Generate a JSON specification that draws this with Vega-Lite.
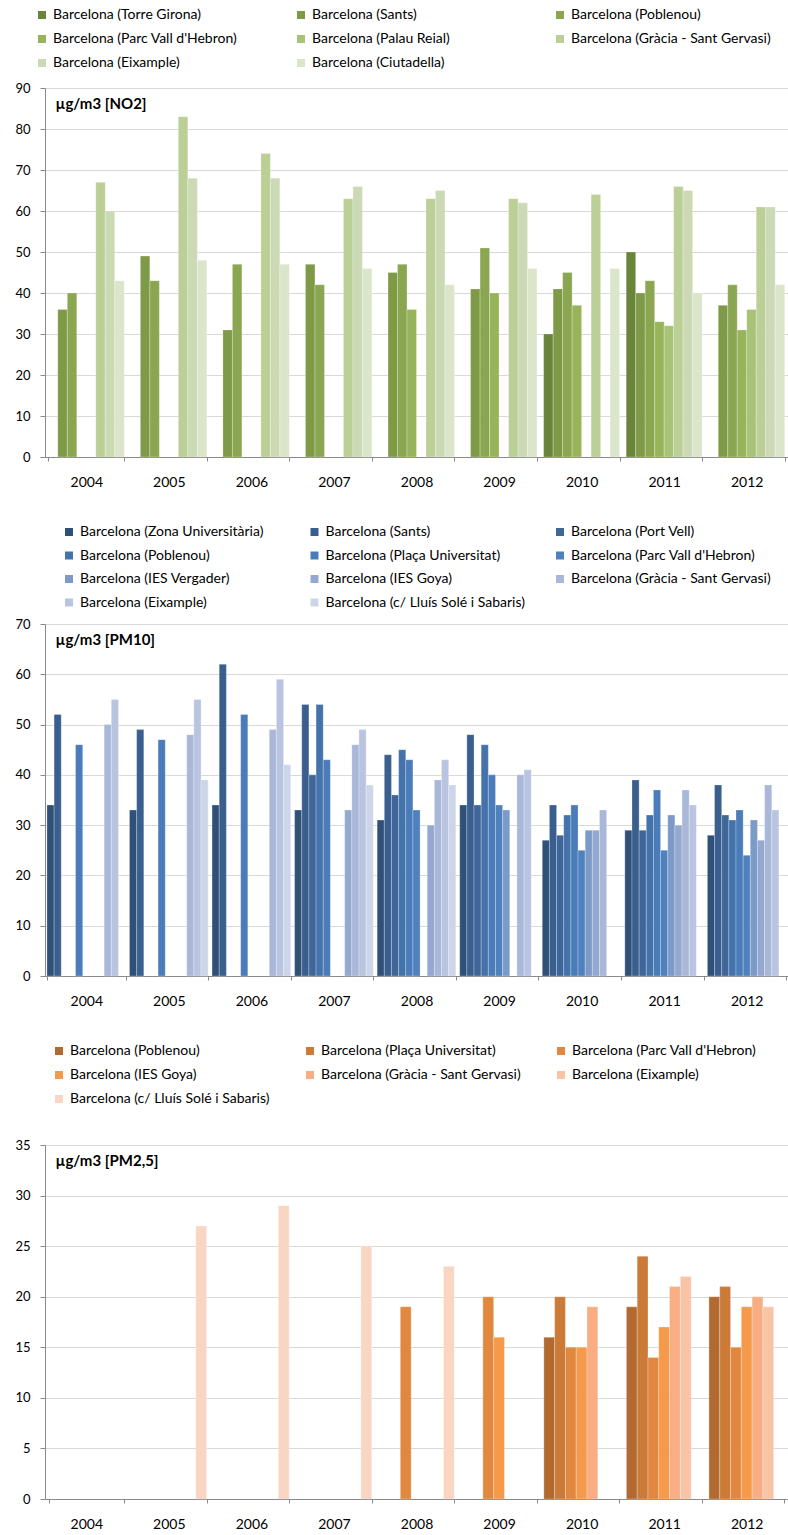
{
  "$schema": "https://vega.github.io/schema/vega-lite/v6.json",
  "background": "white",
  "padding": {"left": 14, "top": 8, "right": 0, "bottom": 0},
  "spacing": 36,
  "resolve": {"scale": {"color": "independent", "xOffset": "independent", "x": "independent", "y": "independent"}, "legend": {"color": "independent"}},
  "config": {
    "view": {"stroke": null},
    "font": "Lato",
    "axis": {"domainColor": "#898989", "tickColor": "#898989", "gridColor": "#d9d9d9", "gridWidth": 1, "labelFont": "Lato", "labelColor": "#000000", "titleFont": "Lato", "titleColor": "#000000"},
    "axisY": {"grid": true, "tickSize": 5, "labelPadding": 10, "labelFontSize": 13, "titleAngle": 0, "titleAlign": "left", "titleBaseline": "top", "titleX": 10, "titleY": 8, "titleFontWeight": "bold", "titleFontSize": 15},
    "axisX": {"grid": false, "tickBand": "extent", "tickSize": 4, "labelPadding": 14, "labelFontSize": 14, "labelAngle": 0, "title": null},
    "legend": {"orient": "none", "direction": "horizontal", "title": null, "columns": 3, "symbolType": "square", "symbolSize": 64, "symbolStrokeWidth": 0, "symbolOpacity": 1, "labelFontSize": 14, "labelFont": "Lato", "labelColor": "#000000", "labelOffset": 4, "gridAlign": "all", "labelLimit": 400, "padding": 0}
  },
  "datasets": {
    "no2": [
      {"year": "2004", "station": "Barcelona (Sants)", "value": 36},
      {"year": "2004", "station": "Barcelona (Poblenou)", "value": 40},
      {"year": "2004", "station": "Barcelona (Gràcia - Sant Gervasi)", "value": 67},
      {"year": "2004", "station": "Barcelona (Eixample)", "value": 60},
      {"year": "2004", "station": "Barcelona (Ciutadella)", "value": 43},
      {"year": "2005", "station": "Barcelona (Sants)", "value": 49},
      {"year": "2005", "station": "Barcelona (Poblenou)", "value": 43},
      {"year": "2005", "station": "Barcelona (Gràcia - Sant Gervasi)", "value": 83},
      {"year": "2005", "station": "Barcelona (Eixample)", "value": 68},
      {"year": "2005", "station": "Barcelona (Ciutadella)", "value": 48},
      {"year": "2006", "station": "Barcelona (Sants)", "value": 31},
      {"year": "2006", "station": "Barcelona (Poblenou)", "value": 47},
      {"year": "2006", "station": "Barcelona (Gràcia - Sant Gervasi)", "value": 74},
      {"year": "2006", "station": "Barcelona (Eixample)", "value": 68},
      {"year": "2006", "station": "Barcelona (Ciutadella)", "value": 47},
      {"year": "2007", "station": "Barcelona (Sants)", "value": 47},
      {"year": "2007", "station": "Barcelona (Poblenou)", "value": 42},
      {"year": "2007", "station": "Barcelona (Gràcia - Sant Gervasi)", "value": 63},
      {"year": "2007", "station": "Barcelona (Eixample)", "value": 66},
      {"year": "2007", "station": "Barcelona (Ciutadella)", "value": 46},
      {"year": "2008", "station": "Barcelona (Sants)", "value": 45},
      {"year": "2008", "station": "Barcelona (Poblenou)", "value": 47},
      {"year": "2008", "station": "Barcelona (Parc Vall d'Hebron)", "value": 36},
      {"year": "2008", "station": "Barcelona (Gràcia - Sant Gervasi)", "value": 63},
      {"year": "2008", "station": "Barcelona (Eixample)", "value": 65},
      {"year": "2008", "station": "Barcelona (Ciutadella)", "value": 42},
      {"year": "2009", "station": "Barcelona (Sants)", "value": 41},
      {"year": "2009", "station": "Barcelona (Poblenou)", "value": 51},
      {"year": "2009", "station": "Barcelona (Parc Vall d'Hebron)", "value": 40},
      {"year": "2009", "station": "Barcelona (Gràcia - Sant Gervasi)", "value": 63},
      {"year": "2009", "station": "Barcelona (Eixample)", "value": 62},
      {"year": "2009", "station": "Barcelona (Ciutadella)", "value": 46},
      {"year": "2010", "station": "Barcelona (Torre Girona)", "value": 30},
      {"year": "2010", "station": "Barcelona (Sants)", "value": 41},
      {"year": "2010", "station": "Barcelona (Poblenou)", "value": 45},
      {"year": "2010", "station": "Barcelona (Parc Vall d'Hebron)", "value": 37},
      {"year": "2010", "station": "Barcelona (Gràcia - Sant Gervasi)", "value": 64},
      {"year": "2010", "station": "Barcelona (Ciutadella)", "value": 46},
      {"year": "2011", "station": "Barcelona (Torre Girona)", "value": 50},
      {"year": "2011", "station": "Barcelona (Sants)", "value": 40},
      {"year": "2011", "station": "Barcelona (Poblenou)", "value": 43},
      {"year": "2011", "station": "Barcelona (Parc Vall d'Hebron)", "value": 33},
      {"year": "2011", "station": "Barcelona (Palau Reial)", "value": 32},
      {"year": "2011", "station": "Barcelona (Gràcia - Sant Gervasi)", "value": 66},
      {"year": "2011", "station": "Barcelona (Eixample)", "value": 65},
      {"year": "2011", "station": "Barcelona (Ciutadella)", "value": 40},
      {"year": "2012", "station": "Barcelona (Sants)", "value": 37},
      {"year": "2012", "station": "Barcelona (Poblenou)", "value": 42},
      {"year": "2012", "station": "Barcelona (Parc Vall d'Hebron)", "value": 31},
      {"year": "2012", "station": "Barcelona (Palau Reial)", "value": 36},
      {"year": "2012", "station": "Barcelona (Gràcia - Sant Gervasi)", "value": 61},
      {"year": "2012", "station": "Barcelona (Eixample)", "value": 61},
      {"year": "2012", "station": "Barcelona (Ciutadella)", "value": 42}
    ],
    "pm10": [
      {"year": "2004", "station": "Barcelona (Zona Universitària)", "value": 34},
      {"year": "2004", "station": "Barcelona (Sants)", "value": 52},
      {"year": "2004", "station": "Barcelona (Plaça Universitat)", "value": 46},
      {"year": "2004", "station": "Barcelona (Gràcia - Sant Gervasi)", "value": 50},
      {"year": "2004", "station": "Barcelona (Eixample)", "value": 55},
      {"year": "2005", "station": "Barcelona (Zona Universitària)", "value": 33},
      {"year": "2005", "station": "Barcelona (Sants)", "value": 49},
      {"year": "2005", "station": "Barcelona (Plaça Universitat)", "value": 47},
      {"year": "2005", "station": "Barcelona (Gràcia - Sant Gervasi)", "value": 48},
      {"year": "2005", "station": "Barcelona (Eixample)", "value": 55},
      {"year": "2005", "station": "Barcelona (c/ Lluís Solé i Sabaris)", "value": 39},
      {"year": "2006", "station": "Barcelona (Zona Universitària)", "value": 34},
      {"year": "2006", "station": "Barcelona (Sants)", "value": 62},
      {"year": "2006", "station": "Barcelona (Plaça Universitat)", "value": 52},
      {"year": "2006", "station": "Barcelona (Gràcia - Sant Gervasi)", "value": 49},
      {"year": "2006", "station": "Barcelona (Eixample)", "value": 59},
      {"year": "2006", "station": "Barcelona (c/ Lluís Solé i Sabaris)", "value": 42},
      {"year": "2007", "station": "Barcelona (Zona Universitària)", "value": 33},
      {"year": "2007", "station": "Barcelona (Sants)", "value": 54},
      {"year": "2007", "station": "Barcelona (Port Vell)", "value": 40},
      {"year": "2007", "station": "Barcelona (Poblenou)", "value": 54},
      {"year": "2007", "station": "Barcelona (Plaça Universitat)", "value": 43},
      {"year": "2007", "station": "Barcelona (IES Goya)", "value": 33},
      {"year": "2007", "station": "Barcelona (Gràcia - Sant Gervasi)", "value": 46},
      {"year": "2007", "station": "Barcelona (Eixample)", "value": 49},
      {"year": "2007", "station": "Barcelona (c/ Lluís Solé i Sabaris)", "value": 38},
      {"year": "2008", "station": "Barcelona (Zona Universitària)", "value": 31},
      {"year": "2008", "station": "Barcelona (Sants)", "value": 44},
      {"year": "2008", "station": "Barcelona (Port Vell)", "value": 36},
      {"year": "2008", "station": "Barcelona (Poblenou)", "value": 45},
      {"year": "2008", "station": "Barcelona (Plaça Universitat)", "value": 43},
      {"year": "2008", "station": "Barcelona (Parc Vall d'Hebron)", "value": 33},
      {"year": "2008", "station": "Barcelona (IES Goya)", "value": 30},
      {"year": "2008", "station": "Barcelona (Gràcia - Sant Gervasi)", "value": 39},
      {"year": "2008", "station": "Barcelona (Eixample)", "value": 43},
      {"year": "2008", "station": "Barcelona (c/ Lluís Solé i Sabaris)", "value": 38},
      {"year": "2009", "station": "Barcelona (Zona Universitària)", "value": 34},
      {"year": "2009", "station": "Barcelona (Sants)", "value": 48},
      {"year": "2009", "station": "Barcelona (Port Vell)", "value": 34},
      {"year": "2009", "station": "Barcelona (Poblenou)", "value": 46},
      {"year": "2009", "station": "Barcelona (Plaça Universitat)", "value": 40},
      {"year": "2009", "station": "Barcelona (Parc Vall d'Hebron)", "value": 34},
      {"year": "2009", "station": "Barcelona (IES Vergader)", "value": 33},
      {"year": "2009", "station": "Barcelona (Gràcia - Sant Gervasi)", "value": 40},
      {"year": "2009", "station": "Barcelona (Eixample)", "value": 41},
      {"year": "2010", "station": "Barcelona (Zona Universitària)", "value": 27},
      {"year": "2010", "station": "Barcelona (Sants)", "value": 34},
      {"year": "2010", "station": "Barcelona (Port Vell)", "value": 28},
      {"year": "2010", "station": "Barcelona (Poblenou)", "value": 32},
      {"year": "2010", "station": "Barcelona (Plaça Universitat)", "value": 34},
      {"year": "2010", "station": "Barcelona (Parc Vall d'Hebron)", "value": 25},
      {"year": "2010", "station": "Barcelona (IES Vergader)", "value": 29},
      {"year": "2010", "station": "Barcelona (IES Goya)", "value": 29},
      {"year": "2010", "station": "Barcelona (Gràcia - Sant Gervasi)", "value": 33},
      {"year": "2011", "station": "Barcelona (Zona Universitària)", "value": 29},
      {"year": "2011", "station": "Barcelona (Sants)", "value": 39},
      {"year": "2011", "station": "Barcelona (Port Vell)", "value": 29},
      {"year": "2011", "station": "Barcelona (Poblenou)", "value": 32},
      {"year": "2011", "station": "Barcelona (Plaça Universitat)", "value": 37},
      {"year": "2011", "station": "Barcelona (Parc Vall d'Hebron)", "value": 25},
      {"year": "2011", "station": "Barcelona (IES Vergader)", "value": 32},
      {"year": "2011", "station": "Barcelona (IES Goya)", "value": 30},
      {"year": "2011", "station": "Barcelona (Gràcia - Sant Gervasi)", "value": 37},
      {"year": "2011", "station": "Barcelona (Eixample)", "value": 34},
      {"year": "2012", "station": "Barcelona (Zona Universitària)", "value": 28},
      {"year": "2012", "station": "Barcelona (Sants)", "value": 38},
      {"year": "2012", "station": "Barcelona (Port Vell)", "value": 32},
      {"year": "2012", "station": "Barcelona (Poblenou)", "value": 31},
      {"year": "2012", "station": "Barcelona (Plaça Universitat)", "value": 33},
      {"year": "2012", "station": "Barcelona (Parc Vall d'Hebron)", "value": 24},
      {"year": "2012", "station": "Barcelona (IES Vergader)", "value": 31},
      {"year": "2012", "station": "Barcelona (IES Goya)", "value": 27},
      {"year": "2012", "station": "Barcelona (Gràcia - Sant Gervasi)", "value": 38},
      {"year": "2012", "station": "Barcelona (Eixample)", "value": 33}
    ],
    "pm25": [
      {"year": "2005", "station": "Barcelona (c/ Lluís Solé i Sabaris)", "value": 27},
      {"year": "2006", "station": "Barcelona (c/ Lluís Solé i Sabaris)", "value": 29},
      {"year": "2007", "station": "Barcelona (c/ Lluís Solé i Sabaris)", "value": 25},
      {"year": "2008", "station": "Barcelona (Parc Vall d'Hebron)", "value": 19},
      {"year": "2008", "station": "Barcelona (c/ Lluís Solé i Sabaris)", "value": 23},
      {"year": "2009", "station": "Barcelona (Parc Vall d'Hebron)", "value": 20},
      {"year": "2009", "station": "Barcelona (IES Goya)", "value": 16},
      {"year": "2010", "station": "Barcelona (Poblenou)", "value": 16},
      {"year": "2010", "station": "Barcelona (Plaça Universitat)", "value": 20},
      {"year": "2010", "station": "Barcelona (Parc Vall d'Hebron)", "value": 15},
      {"year": "2010", "station": "Barcelona (IES Goya)", "value": 15},
      {"year": "2010", "station": "Barcelona (Gràcia - Sant Gervasi)", "value": 19},
      {"year": "2011", "station": "Barcelona (Poblenou)", "value": 19},
      {"year": "2011", "station": "Barcelona (Plaça Universitat)", "value": 24},
      {"year": "2011", "station": "Barcelona (Parc Vall d'Hebron)", "value": 14},
      {"year": "2011", "station": "Barcelona (IES Goya)", "value": 17},
      {"year": "2011", "station": "Barcelona (Gràcia - Sant Gervasi)", "value": 21},
      {"year": "2011", "station": "Barcelona (Eixample)", "value": 22},
      {"year": "2012", "station": "Barcelona (Poblenou)", "value": 20},
      {"year": "2012", "station": "Barcelona (Plaça Universitat)", "value": 21},
      {"year": "2012", "station": "Barcelona (Parc Vall d'Hebron)", "value": 15},
      {"year": "2012", "station": "Barcelona (IES Goya)", "value": 19},
      {"year": "2012", "station": "Barcelona (Gràcia - Sant Gervasi)", "value": 20},
      {"year": "2012", "station": "Barcelona (Eixample)", "value": 19}
    ]
  },
  "vconcat": [
    {
      "width": 743, "height": 369,
      "data": {"name": "no2"},
      "mark": {"type": "bar", "stroke": "#ffffff", "strokeWidth": 0.5, "strokeOpacity": 0.5},
      "encoding": {
        "x": {"field": "year", "type": "nominal", "scale": {"domain": ["2004","2005","2006","2007","2008","2009","2010","2011","2012"], "paddingInner": 0.08, "paddingOuter": 0.04}},
        "xOffset": {"field": "station", "type": "nominal", "scale": {"domain": ["Barcelona (Torre Girona)", "Barcelona (Sants)", "Barcelona (Poblenou)", "Barcelona (Parc Vall d'Hebron)", "Barcelona (Palau Reial)", "Barcelona (Gràcia - Sant Gervasi)", "Barcelona (Eixample)", "Barcelona (Ciutadella)"], "paddingInner": 0, "paddingOuter": 0}},
        "y": {"field": "value", "type": "quantitative", "scale": {"domain": [0, 90], "nice": false}, "axis": {"values": [0,10,20,30,40,50,60,70,80,90], "title": "µg/m3 [NO2]"}},
        "color": {"field": "station", "type": "nominal", "scale": {"domain": ["Barcelona (Torre Girona)", "Barcelona (Sants)", "Barcelona (Poblenou)", "Barcelona (Parc Vall d'Hebron)", "Barcelona (Palau Reial)", "Barcelona (Gràcia - Sant Gervasi)", "Barcelona (Eixample)", "Barcelona (Ciutadella)"], "range": ["#6a8439", "#7e9a47", "#8ba650", "#98b45a", "#a8c277", "#bbcf97", "#cbdab5", "#dbe5ca"]}, "legend": {"legendX": -10, "legendY": -80, "rowPadding": 10, "columnPadding": 41}}
      }
    },
    {
      "width": 743, "height": 352,
      "data": {"name": "pm10"},
      "mark": {"type": "bar", "stroke": "#ffffff", "strokeWidth": 0.5, "strokeOpacity": 0.5},
      "encoding": {
        "x": {"field": "year", "type": "nominal", "scale": {"domain": ["2004","2005","2006","2007","2008","2009","2010","2011","2012"], "paddingInner": 0.047, "paddingOuter": 0.0235}},
        "xOffset": {"field": "station", "type": "nominal", "scale": {"domain": ["Barcelona (Zona Universitària)", "Barcelona (Sants)", "Barcelona (Port Vell)", "Barcelona (Poblenou)", "Barcelona (Plaça Universitat)", "Barcelona (Parc Vall d'Hebron)", "Barcelona (IES Vergader)", "Barcelona (IES Goya)", "Barcelona (Gràcia - Sant Gervasi)", "Barcelona (Eixample)", "Barcelona (c/ Lluís Solé i Sabaris)"], "paddingInner": 0, "paddingOuter": 0}},
        "y": {"field": "value", "type": "quantitative", "scale": {"domain": [0, 70], "nice": false}, "axis": {"values": [0,10,20,30,40,50,60,70], "title": "µg/m3 [PM10]"}},
        "color": {"field": "station", "type": "nominal", "scale": {"domain": ["Barcelona (Zona Universitària)", "Barcelona (Sants)", "Barcelona (Port Vell)", "Barcelona (Poblenou)", "Barcelona (Plaça Universitat)", "Barcelona (Parc Vall d'Hebron)", "Barcelona (IES Vergader)", "Barcelona (IES Goya)", "Barcelona (Gràcia - Sant Gervasi)", "Barcelona (Eixample)", "Barcelona (c/ Lluís Solé i Sabaris)"], "range": ["#2f5077", "#3a5f8f", "#3e6699", "#4472aa", "#497cb9", "#4f81bd", "#7b9ac8", "#95a8d0", "#a9b8d8", "#b9c5e0", "#cdd6e9"]}, "legend": {"legendX": 17, "legendY": -99, "rowPadding": 9.5, "columnPadding": 27.5}}
      }
    },
    {
      "width": 743, "height": 354,
      "data": {"name": "pm25"},
      "mark": {"type": "bar", "stroke": "#ffffff", "strokeWidth": 0.5, "strokeOpacity": 0.5},
      "encoding": {
        "x": {"field": "year", "type": "nominal", "scale": {"domain": ["2004","2005","2006","2007","2008","2009","2010","2011","2012"], "paddingInner": 0.085, "paddingOuter": 0.0425}},
        "xOffset": {"field": "station", "type": "nominal", "scale": {"domain": ["Barcelona (Poblenou)", "Barcelona (Plaça Universitat)", "Barcelona (Parc Vall d'Hebron)", "Barcelona (IES Goya)", "Barcelona (Gràcia - Sant Gervasi)", "Barcelona (Eixample)", "Barcelona (c/ Lluís Solé i Sabaris)"], "paddingInner": 0, "paddingOuter": 0}},
        "y": {"field": "value", "type": "quantitative", "scale": {"domain": [0, 35], "nice": false}, "axis": {"values": [0,5,10,15,20,25,30,35], "title": "µg/m3 [PM2,5]"}},
        "color": {"field": "station", "type": "nominal", "scale": {"domain": ["Barcelona (Poblenou)", "Barcelona (Plaça Universitat)", "Barcelona (Parc Vall d'Hebron)", "Barcelona (IES Goya)", "Barcelona (Gràcia - Sant Gervasi)", "Barcelona (Eixample)", "Barcelona (c/ Lluís Solé i Sabaris)"], "range": ["#b36a30", "#cc7a38", "#e08840", "#f59a4a", "#f8ae82", "#f9c3a6", "#f9d5c4"]}, "legend": {"legendX": 7, "legendY": -101, "rowPadding": 10, "columnPadding": 33}}
      }
    }
  ]
}
